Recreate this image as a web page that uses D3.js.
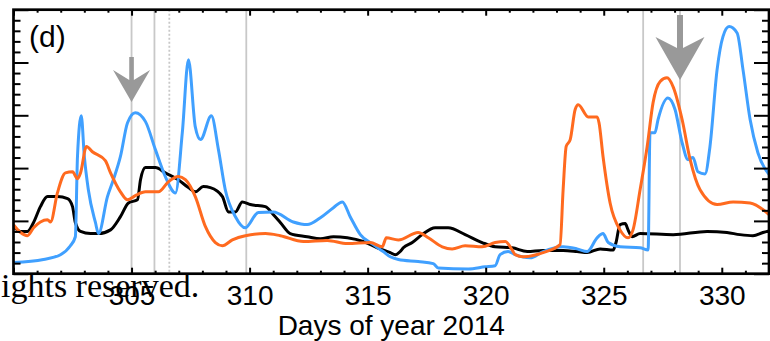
<!DOCTYPE html>
<html lang="en">
<head>
<meta charset="UTF-8">
<title>Days of year 2014 (d)</title>
<script src="https://cdnjs.cloudflare.com/ajax/libs/d3/7.8.5/d3.min.js"></script>
<style>
  body { margin: 0; background: #fff; }
  svg { display: block; font-family: "Liberation Sans", Arial, Helvetica, sans-serif; }
  .axis .domain { display: none; }
  .axis .tick line { stroke: #000; stroke-width: 2; }
  .axis .tick text { font-size: 28px; fill: #000; }
</style>
</head>
<body>
<div id="chart"></div>
<script>
// values, [day of year, value]
const blackSeries = [
  [300.0,0.89],[300.3,0.80],[300.59,0.80],[300.85,0.97],[301.14,1.27],[301.44,1.46],[301.86,1.46],
  [302.29,1.42],[302.5,1.27],[302.62,0.97],[302.84,0.80],[303.26,0.76],[303.6,0.76],[304.11,0.83],
  [304.53,1.08],[304.87,1.34],[305.25,1.40],[305.38,1.78],[305.59,2.01],[306.01,2.01],[306.43,1.91],
  [306.98,1.78],[307.41,1.63],[307.7,1.55],[308.04,1.65],[308.34,1.63],[308.85,1.46],[309.1,1.17],
  [309.4,1.17],[309.69,1.36],[310.03,1.31],[310.67,1.27],[311.0,1.12],[311.3,0.97],[311.72,0.76],
  [312.44,0.70],[313.0,0.66],[313.55,0.70],[314.14,0.68],[314.81,0.61],[315.41,0.49],[315.96,0.40],
  [316.17,0.36],[316.38,0.42],[316.51,0.49],[316.89,0.59],[317.31,0.74],[317.86,0.87],[318.41,0.87],
  [319.13,0.74],[319.85,0.59],[320.4,0.51],[321.12,0.49],[321.76,0.42],[322.43,0.44],[323.28,0.44],
  [323.87,0.42],[324.3,0.40],[324.85,0.47],[325.4,0.45],[325.52,0.59],[325.69,0.93],[325.91,0.95],
  [326.03,0.83],[326.2,0.70],[326.54,0.76],[327.94,0.74],[329.38,0.80],[330.22,0.78],[330.77,0.74],
  [331.32,0.72],[331.75,0.78],[332.0,0.81]
];
const blueSeries = [
  [300.0,0.21],[301.27,0.27],[301.99,0.36],[302.41,0.53],[302.62,0.70],[302.71,2.22],[302.87,2.99],
  [303.0,2.22],[303.17,1.59],[303.47,0.97],[303.6,0.76],[303.98,1.46],[304.23,1.78],[304.53,2.22],
  [304.83,2.86],[305.16,3.05],[305.59,2.88],[306.01,2.35],[306.43,1.84],[306.86,1.53],[307.15,2.67],
  [307.41,4.05],[307.7,2.78],[307.92,2.54],[308.38,2.99],[308.68,2.35],[308.97,1.59],[309.4,1.08],
  [309.82,0.87],[310.37,1.16],[311.0,1.17],[311.85,0.98],[312.44,0.93],[313.0,1.06],[313.55,1.25],
  [313.93,1.36],[314.26,1.08],[314.69,0.74],[315.24,0.55],[315.66,0.42],[315.96,0.32],[316.3,0.27],
  [317.14,0.23],[317.78,0.19],[317.99,0.11],[319.26,0.09],[319.98,0.13],[320.4,0.15],[320.61,0.36],
  [320.95,0.42],[321.25,0.36],[321.88,0.30],[322.43,0.42],[323.28,0.51],[323.87,0.47],[324.3,0.42],
  [324.72,0.68],[324.97,0.76],[325.19,0.59],[325.69,0.51],[326.54,0.49],[326.88,0.45],[326.96,2.67],
  [327.17,2.67],[327.3,2.92],[327.72,3.33],[328.02,3.11],[328.32,2.48],[328.57,2.16],[328.78,2.20],
  [328.99,1.93],[329.29,1.89],[329.5,2.41],[329.8,3.86],[330.05,4.49],[330.31,4.68],[330.65,4.56],
  [330.9,3.86],[331.2,2.92],[331.53,2.29],[332.0,1.88]
];
const orangeSeries = [
  [300.0,0.93],[300.3,0.78],[300.59,0.72],[300.85,0.87],[301.14,0.98],[301.44,1.02],[301.57,0.98],
  [301.86,1.53],[302.2,1.91],[302.5,1.93],[302.71,1.80],[302.84,1.91],[303.09,2.41],[303.34,2.31],
  [303.89,2.14],[304.11,1.91],[304.53,1.55],[304.83,1.40],[305.16,1.48],[305.59,1.55],[306.14,1.55],
  [306.56,1.74],[306.98,1.84],[307.28,1.78],[307.7,1.46],[308.13,0.89],[308.55,0.59],[308.85,0.53],
  [309.27,0.64],[309.82,0.72],[310.67,0.76],[311.3,0.72],[312.28,0.61],[313.29,0.63],[314.14,0.57],
  [315.11,0.59],[315.62,0.51],[315.79,0.68],[316.3,0.64],[317.14,0.78],[317.57,0.68],[318.16,0.51],
  [318.58,0.47],[319.13,0.53],[319.85,0.51],[320.4,0.59],[320.83,0.61],[321.12,0.45],[321.25,0.36],
  [321.59,0.32],[322.43,0.40],[323.15,0.55],[323.28,1.59],[323.41,2.41],[323.58,2.54],[323.79,3.11],
  [323.92,3.20],[324.34,2.97],[324.72,2.97],[324.8,2.86],[324.97,2.22],[325.27,1.34],[325.69,0.83],
  [326.03,0.68],[326.24,0.83],[326.54,1.59],[326.84,2.41],[327.09,3.24],[327.39,3.64],[327.68,3.71],
  [327.94,3.54],[328.32,2.92],[328.66,2.16],[329.08,1.59],[329.8,1.31],[330.48,1.36],[331.2,1.34],
  [332.0,1.12]
];
const xTickLabels = [305, 310, 315, 320, 325, 330];
const markerDays = [305.0, 305.97, 309.86, 326.67, 328.23];
const dottedDays = [306.6];
const arrowDays = [305.0, 328.23];

const width = 770, height = 341;
const plotLeft = 13.5, plotRight = 769, plotTop = 9.7, plotBottom = 273.7;

const x = d3.scaleLinear().domain([300, 332]).range([plotLeft, plotRight]);
const y = d3.scaleLinear().domain([0, 5]).range([plotBottom, plotTop]);

const svg = d3.select("#chart").append("svg")
  .attr("width", width)
  .attr("height", height);

svg.append("clipPath").attr("id", "plot-clip")
  .append("rect")
  .attr("x", plotLeft).attr("y", plotTop)
  .attr("width", plotRight - plotLeft).attr("height", plotBottom - plotTop);

// grey marker lines
svg.append("g").selectAll("line")
  .data(markerDays)
  .join("line")
  .attr("x1", d => x(d)).attr("x2", d => x(d))
  .attr("y1", plotTop).attr("y2", plotBottom)
  .attr("stroke", "#c8c8c8")
  .attr("stroke-width", 1.8);

svg.append("g").selectAll("line")
  .data(dottedDays)
  .join("line")
  .attr("x1", d => x(d)).attr("x2", d => x(d))
  .attr("y1", plotTop).attr("y2", plotBottom)
  .attr("stroke", "#c8c8c8")
  .attr("stroke-width", 1.8)
  .attr("stroke-dasharray", "2,2");

// curves
const line = d3.line()
  .x(d => x(d[0]))
  .y(d => y(d[1]))
  .curve(d3.curveMonotoneX);

const curves = svg.append("g").attr("clip-path", "url(#plot-clip)");
curves.append("path").datum(blackSeries)
  .attr("d", line).attr("fill", "none")
  .attr("stroke", "#000").attr("stroke-width", 3);
curves.append("path").datum(blueSeries)
  .attr("d", line).attr("fill", "none")
  .attr("stroke", "#40a0ff").attr("stroke-width", 3);
curves.append("path").datum(orangeSeries)
  .attr("d", line).attr("fill", "none")
  .attr("stroke", "#ff6a1f").attr("stroke-width", 3);

// arrows (the second one is drawn larger)
const arrowShapes = [
  {stemTop: 57, stemHalf: 2.3, wing: 18.5, corner: 70, notch: 80, tip: 102},
  {stemTop: 15, stemHalf: 3, wing: 24.5, corner: 37, notch: 48, tip: 80}
];
svg.append("g").selectAll("path")
  .data(arrowDays)
  .join("path")
  .attr("fill", "#999")
  .attr("d", (d, i) => {
    const cx = x(d), a = arrowShapes[i];
    return `M${cx - a.stemHalf},${a.stemTop} L${cx + a.stemHalf},${a.stemTop}
      L${cx + a.stemHalf},${a.notch} L${cx + a.wing},${a.corner} L${cx},${a.tip}
      L${cx - a.wing},${a.corner} L${cx - a.stemHalf},${a.notch} Z`;
  });

// axes, ticks pointing inward
const minorDays = d3.range(300, 333).filter(d => d % 5 !== 0);
const majorDays = d3.range(300, 333, 5);
const minorVals = d3.range(0, 5.01, 0.2).filter(v => Math.abs(v - Math.round(v)) > 1e-6);
const majorVals = d3.range(0, 6);

svg.append("g").attr("class", "axis").attr("transform", `translate(0,${plotBottom})`)
  .call(d3.axisBottom(x).tickValues(minorDays).tickSize(-3).tickFormat(""));
svg.append("g").attr("class", "axis").attr("transform", `translate(0,${plotBottom})`)
  .call(d3.axisBottom(x).tickValues(majorDays).tickSize(-6).tickPadding(11)
    .tickFormat(d => xTickLabels.includes(d) ? d : ""));
svg.append("g").attr("class", "axis").attr("transform", `translate(0,${plotTop})`)
  .call(d3.axisTop(x).tickValues(minorDays).tickSize(-3).tickFormat(""));
svg.append("g").attr("class", "axis").attr("transform", `translate(0,${plotTop})`)
  .call(d3.axisTop(x).tickValues(majorDays).tickSize(-6).tickFormat(""));

svg.append("g").attr("class", "axis").attr("transform", `translate(${plotLeft},0)`)
  .call(d3.axisLeft(y).tickValues(minorVals).tickSize(-7).tickFormat(""));
svg.append("g").attr("class", "axis").attr("transform", `translate(${plotLeft},0)`)
  .call(d3.axisLeft(y).tickValues(majorVals).tickSize(-15).tickFormat(""));
svg.append("g").attr("class", "axis").attr("transform", `translate(${plotRight},0)`)
  .call(d3.axisRight(y).tickValues(minorVals).tickSize(-7).tickFormat(""));
svg.append("g").attr("class", "axis").attr("transform", `translate(${plotRight},0)`)
  .call(d3.axisRight(y).tickValues(majorVals).tickSize(-15).tickFormat(""));

// frame
svg.append("rect")
  .attr("x", plotLeft).attr("y", plotTop)
  .attr("width", plotRight - plotLeft).attr("height", plotBottom - plotTop)
  .attr("fill", "none").attr("stroke", "#000").attr("stroke-width", 2.7);

svg.append("text")
  .attr("x", (plotLeft + plotRight) / 2).attr("y", 335)
  .attr("text-anchor", "middle")
  .style("font-size", "28px")
  .text("Days of year 2014");

svg.append("text")
  .attr("x", 29).attr("y", 47)
  .style("font-size", "30px")
  .text("(d)");

// leftover caption from the page the figure was cut from
svg.append("text")
  .attr("x", 1).attr("y", 297)
  .style("font-family", "'Liberation Serif', 'Times New Roman', serif")
  .style("font-size", "34px")
  .text("ights reserved.");
</script>
</body>
</html>
